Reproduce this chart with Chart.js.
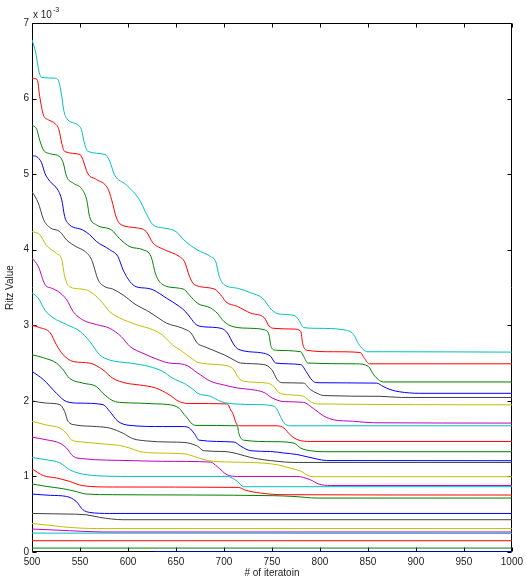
<!DOCTYPE html>
<html><head><meta charset="utf-8">
<script src="https://cdn.jsdelivr.net/npm/chart.js@4/dist/chart.umd.min.js"></script>
<style>html,body{margin:0;padding:0;background:#fff;}#wrap{width:527px;height:583px;position:relative;}</style>
</head><body><div id="wrap"><canvas id="c" width="527" height="583"></canvas></div>
<script>
const xTicks = [500,550,600,650,700,750,800,850,900,950,1000];
const yTicks = [0,1,2,3,4,5,6,7];
const xTitle = '# of iteratoin';
const yTitle = 'Ritz Value';
const yExponent = '-3';

// Ritz values (units of 1e-3), listed from the top curve down: [iteration, value]
const s01 = [[500,6.78],[504,6.60],[507.6,6.34],[510,6.28],[524,6.27],[528,6.22],[531,6.03],[533,5.85],[536,5.74],[548,5.65],[551.5,5.59],[555,5.39],[558.5,5.30],[576,5.26],[581,5.17],[586,4.99],[598,4.86],[612,4.66],[619,4.48],[626,4.33],[636,4.29],[650,4.24],[658,4.13],[672,4.00],[686,3.91],[691.5,3.84],[695,3.65],[700,3.54],[714,3.49],[728,3.43],[740,3.36],[750,3.20],[757,3.15],[773,3.13],[778,3.07],[783,2.97],[797,2.96],[825,2.94],[835,2.88],[840,2.76],[845,2.68],[850,2.65],[866,2.65],[1000,2.645]];
const s02 = [[500,6.27],[505.5,6.25],[508,6.03],[512,5.78],[517,5.72],[524,5.67],[528,5.59],[531,5.41],[534,5.30],[550,5.26],[553,5.19],[558,5.01],[567,4.93],[579,4.81],[583,4.66],[588,4.42],[593,4.33],[608.5,4.29],[619,4.24],[626,4.09],[638,4.00],[653.5,3.91],[659,3.84],[664,3.65],[669,3.54],[690,3.48],[698,3.38],[702,3.31],[714,3.25],[728,3.16],[742,3.10],[747,2.99],[752,2.96],[773,2.95],[780,2.92],[782,2.76],[786,2.67],[814,2.65],[842,2.64],[846,2.57],[851.5,2.49],[1000,2.49]];
const s03 = [[500,5.65],[505,5.59],[508,5.45],[512,5.32],[519,5.27],[529,5.23],[532.5,5.15],[536,4.97],[543,4.88],[551.5,4.81],[557,4.66],[560,4.44],[567,4.33],[583,4.26],[591,4.15],[602,4.04],[615.5,4.00],[624,3.91],[629,3.67],[636,3.54],[653.5,3.49],[659,3.47],[664,3.40],[672.5,3.29],[686,3.23],[693,3.16],[700,3.05],[710,2.98],[728,2.96],[742,2.94],[747,2.87],[749,2.72],[754,2.67],[780,2.65],[783,2.59],[787.5,2.50],[838,2.49],[850.5,2.455],[856,2.345],[861,2.28],[866,2.25],[1000,2.25]];
const s04 = [[500,5.245],[505,5.23],[510,5.15],[513.5,5.01],[519,4.90],[527,4.79],[531,4.66],[534,4.44],[537.5,4.35],[553,4.26],[560,4.20],[567,4.11],[581,4.00],[589.5,3.91],[595,3.73],[602,3.58],[608.5,3.51],[620,3.49],[626,3.47],[640,3.36],[653.5,3.25],[660,3.18],[665,3.10],[671,3.01],[679,2.98],[697,2.96],[703.5,2.90],[710.5,2.74],[715.5,2.68],[741.5,2.63],[748.5,2.59],[754,2.50],[780,2.48],[786.5,2.37],[792,2.27],[797,2.24],[859,2.235],[866,2.19],[873,2.15],[883,2.12],[904,2.10],[1000,2.10]];
const s05 = [[500,4.77],[506.5,4.62],[512,4.40],[519,4.29],[529,4.24],[536,4.13],[546,4.04],[555,3.98],[562,3.87],[569,3.60],[576,3.51],[584,3.48],[595,3.40],[608.5,3.27],[619,3.20],[629,3.12],[640,3.03],[657,2.96],[665.5,2.90],[672.5,2.76],[679,2.72],[700,2.61],[710.5,2.54],[717.5,2.50],[741.5,2.48],[750,2.41],[755.5,2.28],[760.5,2.24],[783,2.235],[790,2.15],[797,2.10],[804,2.07],[862.5,2.06],[885,2.045],[1000,2.045]];
const s06 = [[500,4.24],[508,4.20],[515,4.06],[525.5,3.95],[531,3.87],[534,3.65],[539,3.51],[551.5,3.48],[560,3.45],[570.5,3.34],[581,3.18],[591,3.10],[608.5,3.01],[626,2.94],[636,2.87],[646.5,2.74],[657,2.65],[665.5,2.57],[672.5,2.51],[693,2.48],[709,2.43],[715.5,2.30],[720.5,2.26],[745,2.235],[752,2.19],[757,2.11],[769,2.08],[783,2.06],[790,1.99],[797,1.96],[1000,1.948]];
const s07 = [[500,3.89],[506.5,3.78],[513.5,3.54],[520.5,3.49],[527,3.45],[536,3.34],[543,3.18],[553,3.07],[567,3.01],[581,2.96],[593,2.85],[602,2.72],[615.5,2.63],[632.5,2.54],[643,2.50],[659,2.48],[672.5,2.37],[686,2.26],[700,2.21],[714,2.17],[728,2.15],[742,2.11],[750,2.04],[762.5,1.99],[783,1.98],[793,1.90],[804,1.80],[814,1.75],[835,1.73],[856,1.71],[1000,1.706]];
const s08 = [[500,3.43],[506.5,3.36],[513.5,3.20],[522,3.10],[536,3.01],[550,2.92],[560,2.79],[570.5,2.61],[581,2.54],[602,2.50],[622,2.455],[636,2.39],[646.5,2.30],[660,2.22],[669,2.14],[672.5,2.10],[686,2.06],[697,1.99],[710.5,1.96],[734.5,1.95],[752,1.93],[755.5,1.88],[759,1.79],[762.5,1.71],[769,1.67],[1000,1.67]];
const s09 = [[500,3.00],[508,2.97],[519,2.90],[525.5,2.74],[532.5,2.61],[543,2.52],[560,2.50],[574,2.41],[584,2.30],[598,2.235],[612,2.21],[629,2.17],[643,2.08],[653.5,1.99],[664,1.965],[703.5,1.96],[707,1.88],[709,1.84],[714,1.68],[719,1.67],[755,1.67],[762.5,1.64],[769,1.55],[778,1.48],[790,1.463],[1000,1.463]];
const s10 = [[500,2.61],[512,2.57],[525.5,2.50],[532.5,2.41],[539,2.30],[553,2.235],[567,2.19],[574,2.10],[583,2.01],[591,1.98],[612,1.97],[629,1.96],[643,1.95],[653.5,1.90],[658.5,1.82],[662,1.77],[665.5,1.71],[671,1.675],[714,1.67],[715.5,1.57],[720.5,1.48],[752,1.46],[773,1.44],[780,1.375],[790,1.34],[804,1.327],[1000,1.327]];
const s11 = [[500,2.39],[512,2.28],[525.5,2.10],[536,1.99],[550,1.97],[574,1.95],[581,1.86],[589.5,1.73],[602,1.675],[636,1.66],[657,1.66],[664,1.64],[669,1.57],[674,1.48],[710.5,1.455],[717.5,1.40],[728,1.34],[748.5,1.33],[762.5,1.31],[776,1.29],[786.5,1.26],[797,1.23],[807,1.21],[1000,1.208]];
const s12 = [[500,2.00],[515,1.97],[529,1.95],[534,1.86],[537.5,1.73],[546,1.68],[567,1.66],[581,1.64],[595,1.57],[605,1.50],[619,1.47],[643,1.455],[658.5,1.45],[672.5,1.40],[679,1.34],[700,1.33],[714,1.30],[728,1.25],[755.5,1.20],[773,1.185],[1000,1.185]];
const s13 = [[500,1.73],[515,1.68],[529,1.64],[536,1.57],[541,1.485],[553,1.455],[574,1.43],[591,1.41],[602,1.375],[612,1.33],[629,1.31],[658.5,1.30],[672.5,1.25],[683,1.21],[707,1.19],[728,1.185],[755.5,1.155],[769,1.11],[780,1.07],[790,1.00],[797,0.996],[1000,0.996]];
const s14 = [[500,1.52],[515,1.485],[529,1.44],[536,1.375],[543,1.265],[553,1.235],[602,1.21],[636,1.20],[686,1.19],[693,1.13],[703.5,1.02],[714,1.00],[776,1.00],[790,0.956],[798.5,0.90],[811,0.88],[1000,0.88]];
const s15 = [[500,1.25],[515,1.22],[529,1.18],[539,1.09],[548,1.045],[567,1.01],[602,1.00],[703.5,1.00],[714,0.935],[720.5,0.864],[1000,0.864]];
const s16 = [[500,1.10],[512,1.01],[525.5,0.98],[539,0.935],[553,0.877],[584,0.86],[715,0.855],[722,0.82],[738,0.78],[762.5,0.758],[1000,0.754]];
const s17 = [[500,0.90],[515,0.868],[532.5,0.837],[546,0.80],[556.5,0.767],[584,0.758],[752,0.745],[773,0.735],[797,0.714],[1000,0.714]];
const s18 = [[500,0.767],[519,0.75],[536,0.735],[546,0.67],[553,0.56],[560,0.524],[581,0.51],[1000,0.51]];
const s19 = [[500,0.51],[532.5,0.503],[556.5,0.493],[570.5,0.458],[595,0.427],[1000,0.427]];
const s20 = [[500,0.378],[519,0.352],[539,0.325],[567,0.31],[1000,0.31]];
const s21 = [[500,0.304],[539,0.282],[574,0.265],[1000,0.265]];
const s22 = [[500,0.25],[1000,0.246]];
const s23 = [[500,0.149],[1000,0.149]];
const s24 = [[500,0.052],[1000,0.052]];
const s25 = [[627,0.003],[1000,0.003]];

const seriesList = [s01,s02,s03,s04,s05,s06,s07,s08,s09,s10,s11,s12,s13,s14,s15,s16,s17,s18,s19,s20,s21,s22,s23,s24,s25];
// MATLAB colour cycle (c, r, g, b, k, y, m)
const colorCycle = ['#00BFBF','#FF0000','#008000','#0000FF','#404040','#BFBF00','#BF00BF'];

const FONT = "'Liberation Sans', Arial, Helvetica, sans-serif";

const datasets = seriesList.map((s, i) => ({
  data: s.map(p => ({x: p[0], y: p[1]})),
  borderColor: colorCycle[i % colorCycle.length],
  borderWidth: 1,
  pointRadius: 0,
  fill: false,
  cubicInterpolationMode: 'monotone'
}));

const boxPlugin = {
  id: 'matlabBox',
  beforeDatasetsDraw(chart) {
    const {ctx, chartArea: a, scales} = chart;
    ctx.save();
    ctx.strokeStyle = '#000';
    ctx.lineWidth = 1;
    const L = Math.round(a.left) + 0.5, R = Math.round(a.right) - 0.5;
    const T = Math.round(a.top) + 0.5, B = Math.round(a.bottom) - 0.5;
    ctx.beginPath();
    ctx.rect(L, T, R - L, B - T);
    ctx.stroke();
    const tl = 4;
    ctx.beginPath();
    xTicks.forEach(v => {
      const px = Math.round(scales.x.getPixelForValue(v)) + 0.5;
      ctx.moveTo(px, B); ctx.lineTo(px, B - tl);
      ctx.moveTo(px, T); ctx.lineTo(px, T + tl);
    });
    yTicks.forEach(v => {
      const py = Math.round(scales.y.getPixelForValue(v)) + 0.5;
      ctx.moveTo(L, py); ctx.lineTo(L + tl, py);
      ctx.moveTo(R, py); ctx.lineTo(R - tl, py);
    });
    ctx.stroke();
    ctx.restore();
  },
  afterDraw(chart) {
    const {ctx, chartArea: a} = chart;
    ctx.save();
    ctx.fillStyle = '#222';
    ctx.textBaseline = 'alphabetic';
    ctx.textAlign = 'left';
    ctx.font = '10px ' + FONT;
    const base = a.top - 5;
    const txt = 'x 10';
    ctx.fillText(txt, a.left + 1, base);
    const w = ctx.measureText(txt).width;
    ctx.font = '7px ' + FONT;
    ctx.fillText(yExponent, a.left + 1 + w + 1, base - 6);
    ctx.restore();
  }
};

new Chart(document.getElementById('c'), {
  type: 'line',
  data: {datasets},
  plugins: [boxPlugin],
  options: {
    responsive: false,
    animation: false,
    devicePixelRatio: 1,
    parsing: true,
    layout: {padding: {left: 0, right: 13, top: 23, bottom: 0}},
    plugins: {legend: {display: false}, tooltip: {enabled: false}},
    scales: {
      x: {
        type: 'linear', min: 500, max: 1000,
        afterBuildTicks: s => { s.ticks = xTicks.map(v => ({value: v})); },
        afterFit: s => { s.height = 31; },
        grid: {display: false, drawTicks: false},
        border: {display: false},
        ticks: {padding: 4, color: '#222', font: {family: FONT, size: 10}, maxRotation: 0, autoSkip: false,
                callback: v => String(v)},
        title: {display: true, text: xTitle, color: '#222', font: {family: FONT, size: 10}, padding: {top: 0, bottom: 4}}
      },
      y: {
        type: 'linear', min: 0, max: 7,
        afterBuildTicks: s => { s.ticks = yTicks.map(v => ({value: v})); },
        afterFit: s => { s.width = 32; },
        grid: {display: false, drawTicks: false},
        border: {display: false},
        ticks: {padding: 3, color: '#222', font: {family: FONT, size: 10}, autoSkip: false,
                callback: v => String(v)},
        title: {display: true, text: yTitle, color: '#222', font: {family: FONT, size: 10}, padding: {top: 4, bottom: 0}}
      }
    }
  }
});
</script></body></html>
